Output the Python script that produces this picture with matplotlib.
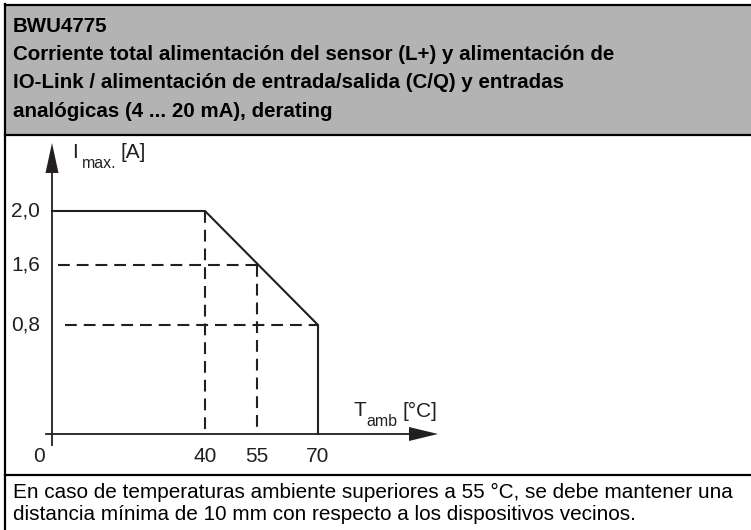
import numpy as np
import matplotlib
matplotlib.use("Agg")
import matplotlib.pyplot as plt
import matplotlib.transforms as mtransforms
from matplotlib.patches import Polygon, Rectangle
from matplotlib.lines import Line2D

# ---------------- data ----------------
title_id = "BWU4775"
title_lines = [
    "Corriente total alimentación del sensor (L+) y alimentación de",
    "IO-Link / alimentación de entrada/salida (C/Q) y entradas",
    "analógicas (4 ... 20 mA), derating",
]
footer_lines = [
    "En caso de temperaturas ambiente superiores a 55 °C, se debe mantener una",
    "distancia mínima de 10 mm con respecto a los dispositivos vecinos.",
]
x_ticks = [0, 40, 55, 70]            # T_amb [°C]
x_tick_labels = ["0", "40", "55", "70"]
y_ticks = [0.8, 1.6, 2.0]            # I_max [A]
y_tick_labels = ["0,8", "1,6", "2,0"]
curve_T = [0, 40, 70, 70]
curve_I = [2.0, 2.0, 0.8, 0.0]
# dashed guide lines
h_guides_T0 = [1.5, 3.5]
h_guides_T1 = [55, 70]
h_guides_I = [1.6, 0.8]
v_guides_T = [40, 55]
v_guides_I = [2.0, 1.6]

# ------------- schematic (non-linear) scale of the drawing -------------
W, H = 751, 530
x_anchor_val = [0, 40, 55, 70]
x_anchor_px = [52, 205, 257, 318]
y_anchor_val = [0, 0.8, 1.6, 2.0]
y_anchor_px = [H - 434, H - 325, H - 265, H - 211]


def pw(v, xs, ys):
    v = np.asarray(v, dtype=float)
    out = np.interp(v, xs, ys)
    s0 = (ys[1] - ys[0]) / (xs[1] - xs[0])
    s1 = (ys[-1] - ys[-2]) / (xs[-1] - xs[-2])
    out = np.where(v < xs[0], ys[0] + (v - xs[0]) * s0, out)
    out = np.where(v > xs[-1], ys[-1] + (v - xs[-1]) * s1, out)
    return out


fx = lambda v: pw(v, x_anchor_val, x_anchor_px)
ix = lambda p: pw(p, x_anchor_px, x_anchor_val)
fy = lambda v: pw(v, y_anchor_val, y_anchor_px)
iy = lambda p: pw(p, y_anchor_px, y_anchor_val)

plt.rcParams["lines.scale_dashes"] = False

fig = plt.figure(figsize=(W / 100, H / 100), dpi=100)
fig.patch.set_facecolor("white")
ax = fig.add_axes([0, 0, 1, 1])
ax.set_xscale("function", functions=(fx, ix))
ax.set_yscale("function", functions=(fy, iy))
ax.set_xlim(float(ix(0)), float(ix(W)))
ax.set_ylim(float(iy(0)), float(iy(H)))
ax.axis("off")

# pixel transform (origin top-left)
pix = mtransforms.Affine2D().scale(1 / W, -1 / H).translate(0, 1) + fig.transFigure

INK = "#231f20"
FONT = "Liberation Sans"

# ---------------- frame / header / footer ----------------
fig.patches.append(Rectangle((5, 5), W - 5, 130, transform=pix, facecolor="#b3b3b3",
                             edgecolor="none", zorder=0))
for xs, ys in [((5, W), (5, 5)), ((5, W), (135, 135)), ((5, W), (475, 475)), ((5, 5), (4, H))]:
    fig.lines.append(Line2D(xs, ys, transform=pix, color="black", lw=1.6))

HS = 14.8
fig.text(13, 31.5, title_id, transform=pix, fontsize=HS, fontweight="bold", family=FONT,
         va="baseline", ha="left", color="black")
for i, t in enumerate(title_lines):
    fig.text(13, 60 + 28.5 * i, t, transform=pix, fontsize=HS, fontweight="bold",
             family=FONT, va="baseline", ha="left", color="black")
for i, t in enumerate(footer_lines):
    fig.text(13, 498 + 22 * i, t, transform=pix, fontsize=14.95, family=FONT,
             va="baseline", ha="left", color="black")

# ---------------- chart ----------------
lw = 1.3
ax.add_line(Line2D([52, 52], [445, 168], transform=pix, color=INK, lw=lw))
ax.add_line(Line2D([46, 414], [434, 434], transform=pix, color=INK, lw=lw))
ax.add_patch(Polygon([(52, 143), (45.5, 173), (58.5, 173)], closed=True, transform=pix,
                     facecolor=INK, edgecolor="none"))
ax.add_patch(Polygon([(438, 434), (409, 427), (409, 441)], closed=True, transform=pix,
                     facecolor=INK, edgecolor="none"))

# derating curve
ax.plot(curve_T, curve_I, color=INK, lw=1.5, solid_joinstyle="miter")

# dashed guides
dash = (0, (8.5, 5.0))
for t0, t1, lev in zip(h_guides_T0, h_guides_T1, h_guides_I):
    ax.plot([t0, t1], [lev, lev], color=INK, lw=1.5, linestyle=dash)
for t, lev in zip(v_guides_T, v_guides_I):
    ax.plot([t, t], [lev, 0], color=INK, lw=1.5, linestyle=dash)

# tick labels
FS = 15
bx = mtransforms.blended_transform_factory(ax.transData, pix)
by = mtransforms.blended_transform_factory(pix, ax.transData)
for t, lab in zip(x_ticks, x_tick_labels):
    xx = t if t != 0 else float(ix(39))
    ax.text(xx, 457, lab, transform=bx, ha="center", va="center", fontsize=FS,
            family=FONT, color=INK)
for v, lab in zip(y_ticks, y_tick_labels):
    ax.text(40, v, lab, transform=by, ha="right", va="center", fontsize=FS,
            family=FONT, color=INK)

# axis titles
SS = 11.5
ax.text(72, 153, "I", transform=pix, ha="left", va="center", fontsize=FS, family=FONT, color=INK)
ax.text(82, 164, "max.", transform=pix, ha="left", va="center", fontsize=SS, family=FONT, color=INK)
ax.text(121, 153, "[A]", transform=pix, ha="left", va="center", fontsize=FS, family=FONT, color=INK)
ax.text(353, 411, "T", transform=pix, ha="left", va="center", fontsize=FS, family=FONT, color=INK)
ax.text(366, 421, "amb", transform=pix, ha="left", va="center", fontsize=SS, family=FONT, color=INK)
ax.text(403, 411, "[°C]", transform=pix, ha="left", va="center", fontsize=FS, family=FONT, color=INK)

fig.savefig("out.png", dpi=100, facecolor="white")
